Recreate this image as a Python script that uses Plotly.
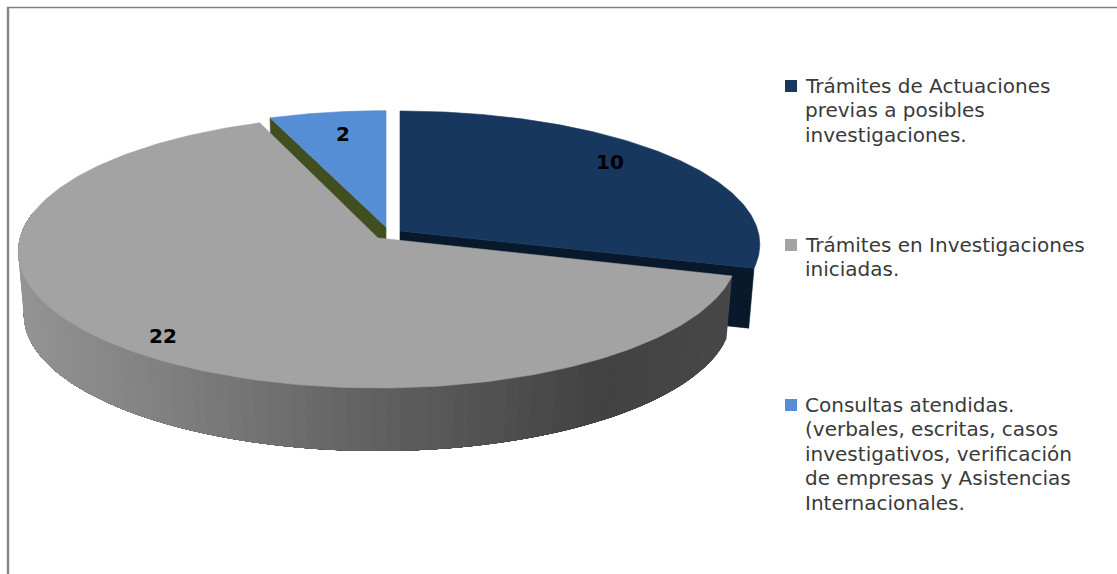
import numpy as np
import plotly.graph_objects as go

categories = [
    ["Trámites de Actuaciones", "previas a posibles", "investigaciones."],
    ["Trámites en Investigaciones", "iniciadas."],
    ["Consultas atendidas.", "(verbales, escritas, casos", "investigativos, verificación",
     "de empresas y Asistencias", "Internacionales."],
]
values = [10, 22, 2]
top_colors = ["#17375e", "#a3a3a3", "#558ed5"]
cut_colors = ["#08192c", "#4a4a4a", "#414e20"]

# slice projection: centre x, centre y, x radius, y radius
proj = [(400, 231, 358, 132), (378, 238, 358, 135), (386, 227, 351, 128)]
persp = 0.1
depth = 60
bottom_scale = 0.985

label_xy = [(610, 162), (163, 336), (343, 134)]
legend_y = [86, 245, 405]
line_step = 24.4
gray_x = [20, 100, 250, 350, 450, 550, 610, 730]
gray_v = [0x94, 0x8a, 0x75, 0x66, 0x58, 0x4a, 0x42, 0x48]

total = sum(values)
edges = np.concatenate([[0], np.cumsum(values)]) / total * 2 * np.pi


def project(i, theta, r=1.0, down=0.0):
    cx, cy, rx, ry = proj[i]
    u, v = r * np.sin(theta), -r * np.cos(theta)
    d = 1 - persp * v
    s = 1 - (1 - bottom_scale) * (down / depth)
    return cx + rx * s * u / d, cy + ry * v / d + down


fig = go.Figure()


def poly(xs, ys, color, edge=0.6):
    fig.add_trace(go.Scatter(
        x=list(xs), y=list(ys), mode="lines", fill="toself", fillcolor=color,
        line=dict(color=color, width=edge), hoverinfo="skip", showlegend=False,
    ))


def wedge(i):
    t = np.linspace(edges[i], edges[i + 1], 200)
    x, y = project(i, t)
    ax, ay = project(i, 0.0, r=0.0)
    poly(np.r_[ax, x, ax], np.r_[ay, y, ay], top_colors[i])


def cut_face(i, theta):
    ax, ay = project(i, 0.0, r=0.0)
    bx, by = project(i, 0.0, r=0.0, down=depth)
    rx0, ry0 = project(i, theta)
    rx1, ry1 = project(i, theta, down=depth)
    poly([ax, rx0, rx1, bx, ax], [ay, ry0, ry1, by, ay], cut_colors[i])


# dark slice: cut face, top
cut_face(0, edges[1])
wedge(0)

# blue slice: cut face and top
cut_face(2, edges[2])
wedge(2)

# gray slice: shaded rim painted right to left, each band reaching the far end
rim_end = np.radians(281)
strip_edges = np.linspace(edges[1], rim_end, 90)
for a in strip_edges[:-1]:
    seg = np.linspace(a, rim_end, 60)
    x0, y0 = project(1, seg)
    x1, y1 = project(1, seg, down=63)
    g = int(np.interp(x0[0], gray_x, gray_v))
    poly(np.r_[x0, x1[::-1]], np.r_[y0, y1[::-1]], f"rgb({g},{g},{g})", edge=0)
wedge(1)

# legend swatches
fig.add_trace(go.Scatter(
    x=[791, 791, 791], y=legend_y, mode="markers",
    marker=dict(symbol="square", size=12, color=top_colors, line=dict(width=0)),
    hoverinfo="skip", showlegend=False,
))

annotations = []
for (lx, ly), v in zip(label_xy, values):
    annotations.append(dict(
        x=lx, y=ly, text=f"<b>{v}</b>", showarrow=False, xanchor="center", yanchor="middle",
        font=dict(family="DejaVu Sans", size=20, color="#000000"),
    ))
for lines, ly in zip(categories, legend_y):
    for j, line in enumerate(lines):
        annotations.append(dict(
            x=803, y=ly + j * line_step, text=line, showarrow=False,
            xanchor="left", yanchor="middle",
            font=dict(family="DejaVu Sans", size=20, color="#3a3a3a"),
        ))

shapes = [
    dict(type="line", x0=7, x1=1117, y0=7.5, y1=7.5, line=dict(color="#808080", width=1.5)),
    dict(type="line", x0=8, x1=8, y0=7, y1=574, line=dict(color="#868686", width=2.5)),
]

fig.update_layout(
    width=1117, height=574, margin=dict(l=0, r=0, t=0, b=0),
    paper_bgcolor="white", plot_bgcolor="white",
    xaxis=dict(range=[0, 1117], visible=False, fixedrange=True),
    yaxis=dict(range=[574, 0], visible=False, fixedrange=True),
    annotations=annotations, shapes=shapes,
)

fig.write_html(
    "out.html",
    config=dict(displayModeBar=False),
    post_script="document.body.style.margin='0';",
)
